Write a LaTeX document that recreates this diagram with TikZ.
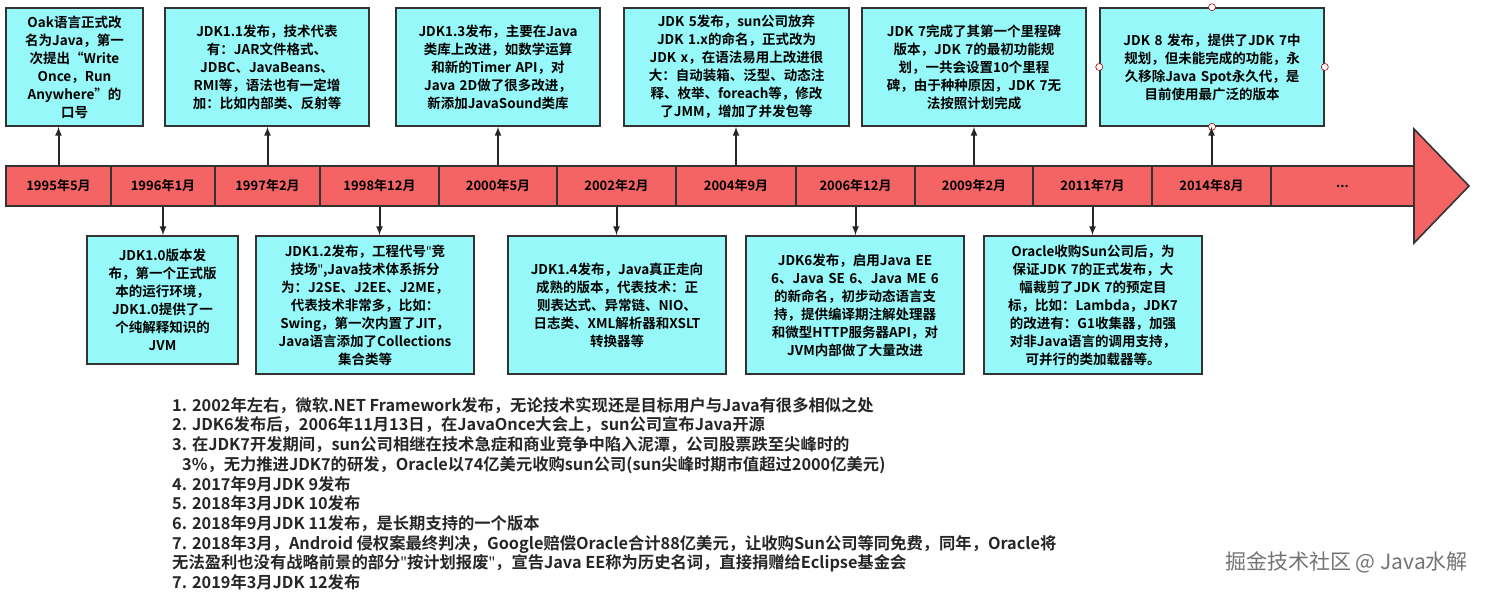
\documentclass[tikz,border=0pt]{standalone}
\usepackage{fontspec}
\setmainfont{Noto Sans CJK SC}[BoldFont={Noto Sans CJK SC Bold},Ligatures=ResetAll]
\newfontfamily\latq{Noto Sans}[Ligatures=ResetAll]
\newcommand{\sq}{{\latq\bfseries\symbol{34}}}
\begin{document}
\begin{tikzpicture}[x=1pt,y=-1pt,
  box/.style={draw=black!80,line width=1.6pt,fill=boxc,align=center,font=\fontsize{13.5}{18}\selectfont\bfseries,inner sep=2pt},
  seg/.style={draw=black!80,line width=1.2pt,fill=redc,minimum height=40pt,font=\fontsize{13}{16}\selectfont\bfseries,inner sep=0pt},
  arr/.style={draw=black!85,line width=2pt,-latex},
  handle/.style={circle,draw=red!70!black,fill=white,inner sep=0pt,minimum size=7pt,line width=0.6pt}]
\definecolor{boxc}{RGB}{150,248,248}
\definecolor{redc}{RGB}{245,100,100}
\useasboundingbox (0,0) rectangle (1487,593);
% bar
\draw[draw=black!80,line width=1.6pt,fill=redc] (6,166)--(1414,166)--(1414,129)--(1469,186)--(1414,243)--(1414,206)--(6,206)--cycle;
\node[seg,minimum width=105pt] (s1) at (58.5,186) {1995年5月};
\node[seg,minimum width=104pt] (s2) at (163,186) {1996年1月};
\node[seg,minimum width=105pt] (s3) at (267.5,186) {1997年2月};
\node[seg,minimum width=119pt] (s4) at (379.5,186) {1998年12月};
\node[seg,minimum width=118pt] (s5) at (498,186) {2000年5月};
\node[seg,minimum width=119pt] (s6) at (616.5,186) {2002年2月};
\node[seg,minimum width=120pt] (s7) at (736,186) {2004年9月};
\node[seg,minimum width=119pt] (s8) at (855.5,186) {2006年12月};
\node[seg,minimum width=118pt] (s9) at (974,186) {2009年2月};
\node[seg,minimum width=119pt] (s10) at (1092.5,186) {2011年7月};
\node[seg,minimum width=119pt] (s11) at (1211.5,186) {2014年8月};
\node[seg,minimum width=143pt] (s12) at (1342.5,186) {...};
% top boxes
\node[box,minimum width=137pt,minimum height=118pt,text width=128pt] (t1) at (74.5,67) {Oak语言正式改\\名为Java，第一\\次提出“Write\\Once，Run\\Anywhere”的\\口号};
\node[box,minimum width=204pt,minimum height=118pt,text width=195pt] (t2) at (267,67) {JDK1.1发布，技术代表\\有：JAR文件格式、\\JDBC、JavaBeans、\\RMI等，语法也有一定增\\加：比如内部类、反射等};
\node[box,minimum width=204pt,minimum height=118pt,text width=195pt] (t3) at (498,67) {JDK1.3发布，主要在Java\\类库上改进，如数学运算\\和新的Timer API，对\\Java 2D做了很多改进，\\新添加JavaSound类库};
\node[box,minimum width=225pt,minimum height=118pt,text width=216pt] (t4) at (736.5,67) {JDK 5发布，sun公司放弃\\JDK 1.x的命名，正式改为\\JDK x，在语法易用上改进很\\大：自动装箱、泛型、动态注\\释、枚举、foreach等，修改\\了JMM，增加了并发包等};
\node[box,minimum width=224pt,minimum height=118pt,text width=215pt] (t5) at (974,67) {JDK 7完成了其第一个里程碑\\版本，JDK 7的最初功能规\\划，一共会设置10个里程\\碑，由于种种原因，JDK 7无\\法按照计划完成};
\node[box,minimum width=224pt,minimum height=118pt,text width=215pt] (t6) at (1212,67) {JDK 8 发布，提供了JDK 7中\\规划，但未能完成的功能，永\\久移除Java Spot永久代，是\\目前使用最广泛的版本};
% bottom boxes
\node[box,minimum width=151pt,minimum height=128pt,text width=142pt] (b1) at (162.5,300) {JDK1.0版本发\\布，第一个正式版\\本的运行环境，\\JDK1.0提供了一\\个纯解释知识的\\JVM};
\node[box,minimum width=218pt,minimum height=138pt,text width=209pt] (b2) at (365,305) {JDK1.2发布，工程代号\sq 竞\\技场\sq,Java技术体系拆分\\为：J2SE、J2EE、J2ME，\\代表技术非常多，比如：\\Swing，第一次内置了JIT，\\Java语言添加了Collections\\集合类等};
\node[box,minimum width=218pt,minimum height=138pt,text width=209pt] (b3) at (617,305) {JDK1.4发布，Java真正走向\\成熟的版本，代表技术：正\\则表达式、异常链、NIO、\\日志类、XML解析器和XSLT\\转换器等};
\node[box,minimum width=218pt,minimum height=138pt,text width=209pt] (b4) at (855,305) {JDK6发布，启用Java EE\\6、Java SE 6、Java ME 6\\的新命名，初步动态语言支\\持，提供编译期注解处理器\\和微型HTTP服务器API，对\\JVM内部做了大量改进};
\node[box,minimum width=218pt,minimum height=138pt,text width=209pt] (b5) at (1093,305) {Oracle收购Sun公司后，为\\保证JDK 7的正式发布，大\\幅裁剪了JDK 7的预定目\\标，比如：Lambda，JDK7\\的改进有：G1收集器，加强\\对非Java语言的调用支持，\\可并行的类加载器等。};
% handles
\node[handle] (h1) at (t6.north) {};
\node[handle] (h2) at (t6.south) {};
\node[handle] (h3) at (t6.west) {};
\node[handle] (h4) at (t6.east) {};
% arrows
\foreach \s/\b in {s1/t1,s3/t2,s5/t3,s7/t4,s9/t5,s11/t6}
  \draw[arr] (\s.north) -- (\s.north |- \b.south);
\foreach \s/\b in {s2/b1,s4/b2,s6/b3,s8/b4,s10/b5}
  \draw[arr] (\s.south) -- (\s.south |- \b.north);
% notes
\node[anchor=north west,align=left,font=\fontsize{16.3}{19.7}\selectfont\bfseries,text=black!85,inner sep=0pt] (notes) at (172,397) {1. 2002年左右，微软.NET Framework发布，无论技术实现还是目标用户与Java有很多相似之处\\
2. JDK6发布后，2006年11月13日，在JavaOnce大会上，sun公司宣布Java开源\\
3. 在JDK7开发期间，sun公司相继在技术急症和商业竞争中陷入泥潭，公司股票跌至尖峰时的\\
\hspace*{10pt}3\%，无力推进JDK7的研发，Oracle以74亿美元收购sun公司(sun尖峰时期市值超过2000亿美元)\\
4. 2017年9月JDK 9发布\\
5. 2018年3月JDK 10发布\\
6. 2018年9月JDK 11发布，是长期支持的一个版本\\
7. 2018年3月，Android 侵权案最终判决，Google赔偿Oracle合计88亿美元，让收购Sun公司等同免费，同年，Oracle将\\
无法盈利也没有战略前景的部分\sq 按计划报废\sq，宣告Java EE称为历史名词，直接捐赠给Eclipse基金会\\
7. 2019年3月JDK 12发布};
\node[anchor=east,font=\fontsize{21}{24}\selectfont,text=black!55,inner sep=0pt] (wm) at (1468,562) {掘金技术社区 @ Java水解};
\end{tikzpicture}
\end{document}
